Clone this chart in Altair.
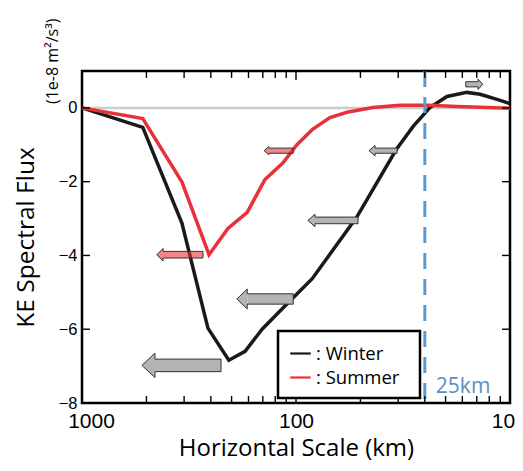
import altair as alt
import pandas as pd

# ---------------- data ----------------
winter_km = [1000, 520, 341, 258, 206, 173, 144, 110, 84, 52, 34, 28.4, 23.7, 19.7, 15.9, 13.8, 11.5, 10]
winter_flux = [0, -0.53, -3.13, -5.97, -6.84, -6.6, -6.0, -5.31, -4.63, -2.96, -1.13, -0.51, 0.01, 0.31, 0.42, 0.37, 0.23, 0.12]

summer_km = [1000, 520, 341, 255, 208, 169, 140, 115, 99, 84, 69.4, 57.8, 43.7, 32.7, 23.7, 17.7, 10]
summer_flux = [0, -0.29, -2.01, -3.98, -3.27, -2.83, -1.95, -1.49, -1.0, -0.59, -0.26, -0.12, 0.01, 0.07, 0.07, 0.04, -0.01]

seasons = ["Winter", "Summer"]
season_colors = ["#1a1a1a", "#e8323a"]

x_labels = [1000, 100, 10]
x_minor_ticks = [500, 333.3, 250, 200, 166.7, 142.9, 125, 111.1, 50, 33.3, 25, 20, 16.7, 14.3, 12.5, 11.1]
x_major_ticks = [100]
y_ticks = [0, -2, -4, -6, -8]

cutoff_km = [25]
cutoff_label = ["25km"]
unit_label = ["(1e-8 m\u00b2/s\u00b3)"]

# arrows (annotation): tip, head base, tail end (km), level, head / shaft half-heights, season
arrow_tip = [141, 447, 525, 189, 88, 45.6, 13.4]
arrow_base = [134, 418, 456, 169, 81.5, 42.7, 14.1]
arrow_end = [103, 272, 224, 103, 51.3, 33.7, 16.1]
arrow_level = [-1.16, -3.98, -6.98, -5.18, -3.05, -1.16, 0.64]
arrow_head = [0.11, 0.17, 0.33, 0.27, 0.17, 0.14, 0.14]
arrow_shaft = [0.07, 0.09, 0.17, 0.14, 0.09, 0.07, 0.07]
arrow_season = ["Summer", "Summer", "Winter", "Winter", "Winter", "Winter", "Winter"]

# ---------------- tables ----------------
lines_df = pd.DataFrame({
    "km": winter_km + summer_km,
    "flux": winter_flux + summer_flux,
    "season": ["Winter"] * len(winter_km) + ["Summer"] * len(summer_km),
    "i": list(range(len(winter_km))) + list(range(len(summer_km))),
})

shaft_rows, head_rows, outline_rows = [], [], []
for a in range(len(arrow_tip)):
    yc, h, s = arrow_level[a], arrow_head[a], arrow_shaft[a]
    tip, base, end = arrow_tip[a], arrow_base[a], arrow_end[a]
    fill = "#e8323a" if arrow_season[a] == "Summer" else "#b3b3b3"
    op = 0.6 if arrow_season[a] == "Summer" else 1.0
    shaft_rows.append({"km": base, "km2": end, "flux": yc + s, "flux2": yc - s, "fill": fill, "op": op, "arrow": a})
    head_rows.append({"km": tip, "flux": yc, "flux2": yc, "fill": fill, "op": op, "arrow": a})
    head_rows.append({"km": base, "flux": yc + h, "flux2": yc - h, "fill": fill, "op": op, "arrow": a})
    pts = [(tip, yc), (base, yc + h), (base, yc + s), (end, yc + s), (end, yc - s),
           (base, yc - s), (base, yc - h), (tip, yc)]
    for j, (xk, yv) in enumerate(pts):
        outline_rows.append({"km": xk, "flux": yv, "arrow": a, "j": j})
shaft_df = pd.DataFrame(shaft_rows)
head_df = pd.DataFrame(head_rows)
outline_df = pd.DataFrame(outline_rows)

W, H = 428, 332

xscale = alt.Scale(type="log", domain=[10, 1000], reverse=True, nice=False)
yscale = alt.Scale(domain=[-8, 1], nice=False, zero=False)

x_axis = alt.Axis(values=x_labels, format="d", title="Horizontal Scale   (km)", ticks=False, domain=False,
                  grid=False, labelFont="Liberation Sans", labelFontSize=21, labelPadding=7,
                  labelFlush=False,
                  labelOffset={"condition": [{"test": "datum.value >= 1000", "value": 9},
                                             {"test": "datum.value <= 10", "value": -7}], "value": 0},
                  titleFont="Open Sans", titleFontSize=24, titleFontWeight="normal", titlePadding=5)
y_axis = alt.Axis(values=y_ticks, title="KE Spectral Flux", ticks=False, domain=False, grid=False,
                  labelFont="Liberation Sans", labelFontSize=16.5, labelPadding=5,
                  titleFont="Open Sans", titleFontSize=24.5, titleFontWeight="normal", titlePadding=20)


def X(field="km:Q"):
    return alt.X(field, scale=xscale, axis=x_axis)


def Y(field="flux:Q"):
    return alt.Y(field, scale=yscale, axis=y_axis)


zero = alt.Chart(pd.DataFrame({"flux": [0]})).mark_rule(color="#cccccc", strokeWidth=2.5).encode(y=Y())

lines = alt.Chart(lines_df).mark_line(strokeWidth=3.5).encode(
    x=X(), y=Y(), order="i:Q",
    color=alt.Color("season:N", scale=alt.Scale(domain=seasons, range=season_colors),
                    legend=alt.Legend(title=None, orient="none", legendX=196, legendY=260,
                                      symbolType="stroke", symbolSize=420, symbolStrokeWidth=2.2,
                                      labelFont="Open Sans", labelFontSize=18.5, labelOffset=4,
                                      labelExpr="':   ' + datum.label", padding=11, rowPadding=3,
                                      strokeColor="black", fillColor="white")),
)

cut_df = pd.DataFrame({"km": cutoff_km, "label": cutoff_label, "flux": [-8]})
cut = alt.Chart(cut_df).mark_rule(color="#5b9bd5", strokeWidth=3, strokeDash=[16, 10]).encode(x=X())
cut_text = alt.Chart(cut_df).mark_text(align="left", baseline="alphabetic", dx=11, dy=-10,
                                       font="Open Sans", fontSize=21, color="#5b8ec5").encode(
    x=X(), y=Y(), text="label:N")

shafts = alt.Chart(shaft_df).mark_rect(strokeWidth=0).encode(
    x=X(), x2="km2:Q", y=Y(), y2="flux2:Q",
    fill=alt.Fill("fill:N", scale=None), fillOpacity=alt.FillOpacity("op:Q", scale=None))
heads = alt.Chart(head_df).mark_area(strokeWidth=0).encode(
    x=X(), y=alt.Y("flux:Q", scale=yscale, axis=y_axis, stack=None), y2="flux2:Q",
    detail="arrow:N",
    fill=alt.Fill("fill:N", scale=None), fillOpacity=alt.FillOpacity("op:Q", scale=None))
outlines = alt.Chart(outline_df).mark_line(color="#333333", strokeWidth=1).encode(
    x=X(), y=Y(), order="j:Q", detail="arrow:N")

# inward ticks on all four sides of the frame
xt_min = pd.DataFrame({"km": x_minor_ticks})
xt_maj = pd.DataFrame({"km": x_major_ticks})
yt = pd.DataFrame({"flux": y_ticks})
TK = dict(color="black", thickness=1.4, opacity=1)
xt_top = alt.Chart(xt_min).mark_tick(size=7, **TK).encode(x=X(), y=alt.value(3.5))
xt_bot = alt.Chart(xt_min).mark_tick(size=7, **TK).encode(x=X(), y=alt.value(H - 3.5))
xm_top = alt.Chart(xt_maj).mark_tick(size=9, **TK).encode(x=X(), y=alt.value(4.5))
xm_bot = alt.Chart(xt_maj).mark_tick(size=9, **TK).encode(x=X(), y=alt.value(H - 4.5))
yt_left = alt.Chart(yt).mark_tick(size=8, **TK).encode(y=Y(), x=alt.value(4))
yt_right = alt.Chart(yt).mark_tick(size=8, **TK).encode(y=Y(), x=alt.value(W - 4))

unit = alt.Chart(pd.DataFrame({"t": unit_label})).mark_text(
    angle=270, align="left", baseline="middle", font="Open Sans", fontSize=16, color="black").encode(
    x=alt.value(-29), y=alt.value(33), text="t:N")

chart = alt.layer(
    zero, lines, cut, cut_text, shafts, heads, outlines,
    xt_top, xt_bot, xm_top, xm_bot, yt_left, yt_right, unit
).properties(
    width=W, height=H,
    autosize=alt.AutoSizeParams(type="none"),
    padding={"left": 74, "top": 63, "right": 5, "bottom": 58},
).configure_view(stroke="black", strokeWidth=2.5).configure_axis(
    labelColor="black", titleColor="black"
).configure_legend(strokeWidth=2.5)

chart.save("out.html", embed_options={"renderer": "svg", "actions": False})
